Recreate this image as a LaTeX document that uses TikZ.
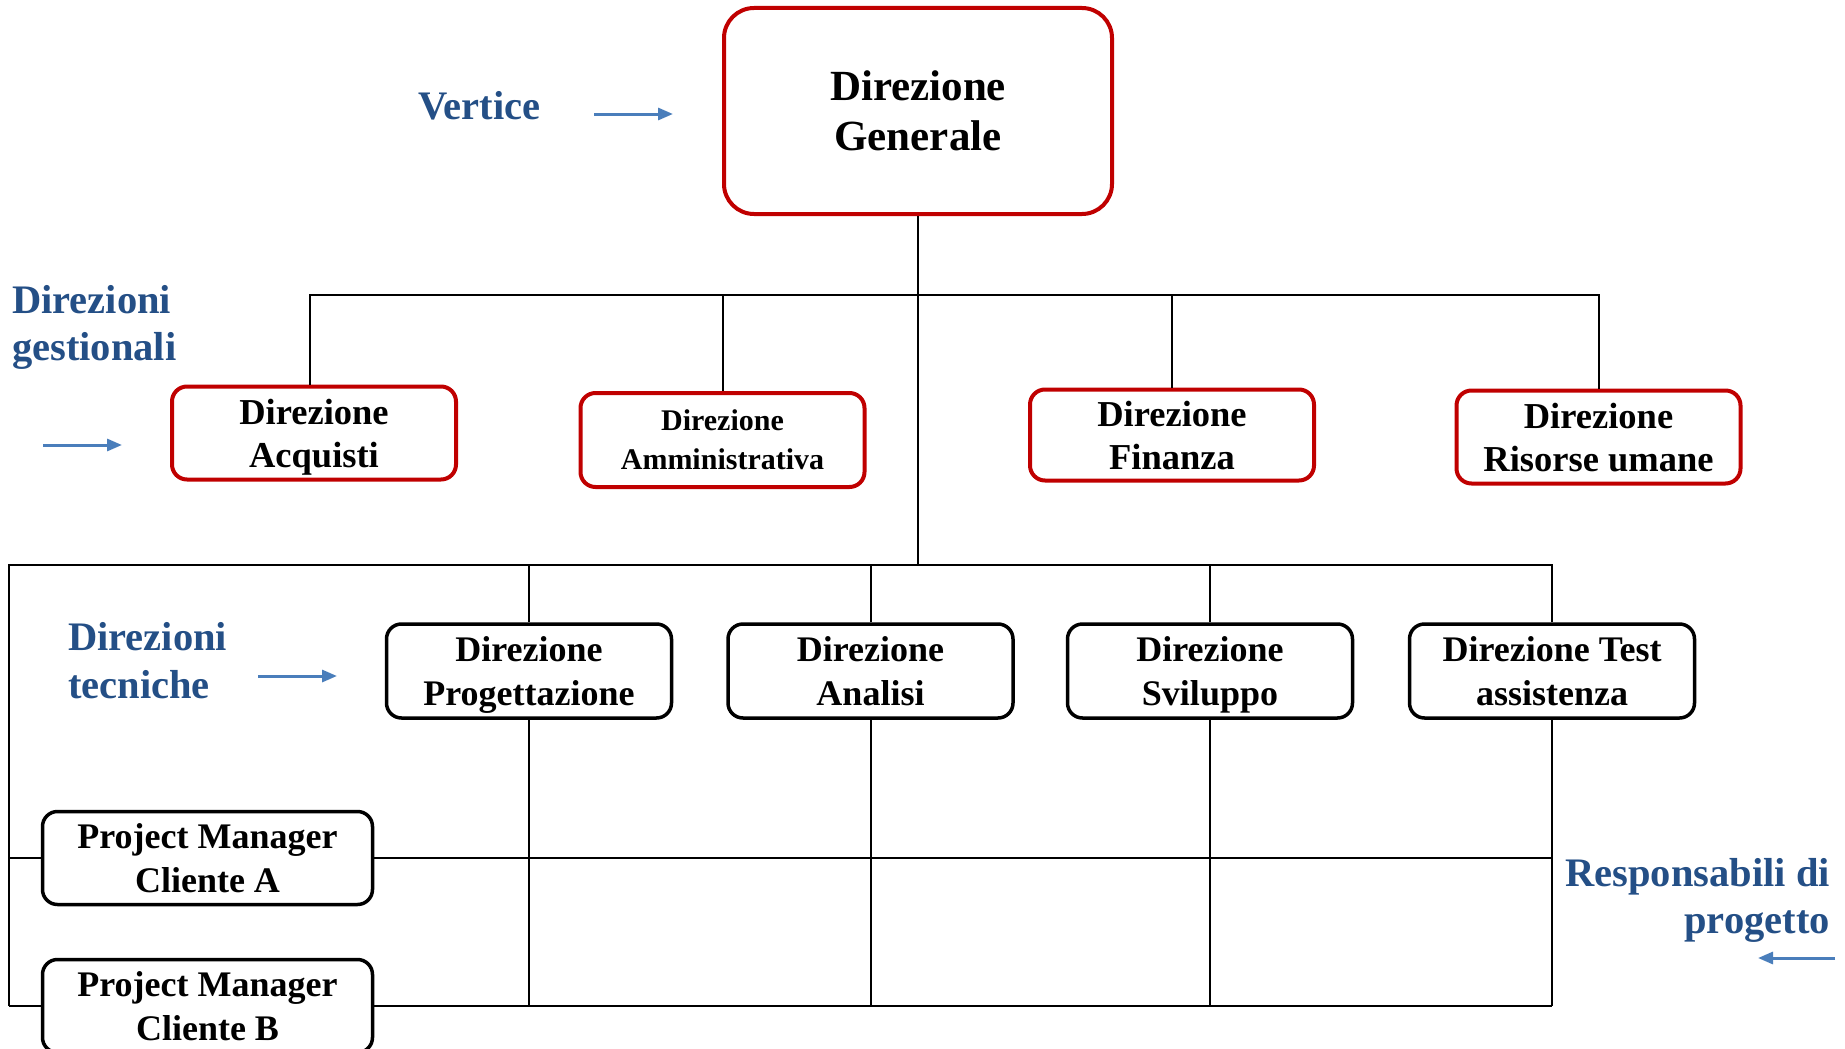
\documentclass[tikz,border=0pt]{standalone}
\usepackage{fontspec}
\setmainfont{Liberation Serif}
\usetikzlibrary{arrows.meta}
\definecolor{boxred}{RGB}{192,0,0}
\definecolor{labblue}{RGB}{36,79,134}
\definecolor{arrblue}{RGB}{74,126,187}
\tikzset{
  basebox/.style={rectangle, align=center, inner sep=0pt, text=black, text depth=0pt},
  redbox/.style={basebox, draw=boxred, line width=4pt, rounded corners=15pt,
    minimum width=284pt, minimum height=93pt, font=\bfseries\fontsize{36.5}{43}\selectfont},
  blackbox/.style={basebox, draw=black, line width=3.5pt, rounded corners=15pt,
    minimum width=285pt, minimum height=94pt, font=\bfseries\fontsize{36}{44}\selectfont},
  conn/.style={draw=black, line width=2pt},
  lab/.style={text=labblue, inner sep=0pt, font=\bfseries\fontsize{40.5}{47}\selectfont},
  pointer/.style={draw=arrblue, line width=3pt, -{Triangle[length=15pt,width=12pt]}}
}
\begin{document}
\begin{tikzpicture}[x=1pt,y=-1pt]
\clip (0,0) rectangle (1845,1049);
\fill[white] (0,0) rectangle (1845,1049);

% top
\node[redbox, minimum width=388pt, minimum height=206pt, rounded corners=30pt,
  font=\bfseries\fontsize{43}{50}\selectfont] (dg) at (918,111) {Direzione\\Generale};

% gestionali
\node[redbox] (acq) at (314,433) {Direzione\\Acquisti};
\node[redbox, minimum height=94pt, font=\bfseries\fontsize{30}{39}\selectfont] (amm) at (722.5,440) {Direzione\\Amministrativa};
\node[redbox, minimum height=91pt] (fin) at (1172,435) {Direzione\\Finanza};
\node[redbox] (ris) at (1598.5,437) {Direzione\\Risorse umane};

% tecniche
\node[blackbox] (prog) at (529,671) {Direzione\\Progettazione};
\node[blackbox] (ana) at (870.5,671) {Direzione\\Analisi};
\node[blackbox] (svi) at (1210,671) {Direzione\\Sviluppo};
\node[blackbox] (test) at (1552,671) {Direzione Test\\assistenza};

% project managers
\node[blackbox, minimum width=330pt, minimum height=93pt] (pma) at (207.5,858) {Project Manager\\Cliente A};
\node[blackbox, minimum width=330pt, minimum height=93pt] (pmb) at (207.5,1006) {Project Manager\\Cliente B};

% bus coordinates
\coordinate (gbus) at (0,295);
\coordinate (tbus) at (0,565);
\coordinate (rowb) at (0,1006);
\coordinate (lft) at (9,0);

% connectors top
\draw[conn] (dg.south) -- (dg.south |- tbus);
\draw[conn] ([xshift=-4pt]acq.north) -- ([xshift=-4pt]acq.north |- gbus) -- (ris.north |- gbus) -- (ris.north);
\draw[conn] (amm.north) -- (amm.north |- gbus);
\draw[conn] (fin.north) -- (fin.north |- gbus);

% tech bus
\draw[conn] (lft |- rowb) -- (lft |- tbus) -- (test.north |- tbus) -- (test.north);
\draw[conn] (prog.north) -- (prog.north |- tbus);
\draw[conn] (ana.north) -- (ana.north |- tbus);
\draw[conn] (svi.north) -- (svi.north |- tbus);

% verticals below tech boxes
\draw[conn] (prog.south) -- (prog.south |- rowb);
\draw[conn] (ana.south) -- (ana.south |- rowb);
\draw[conn] (svi.south) -- (svi.south |- rowb);
\draw[conn] (test.south) -- (test.south |- rowb);

% project rows
\draw[conn] (lft |- pma.west) -- (pma.west);
\draw[conn] (pma.east) -- (test.south |- pma.east);
\draw[conn] (lft |- rowb) -- (pmb.west |- rowb);
\draw[conn] (pmb.east |- rowb) -- (test.south |- rowb);

% labels
\node[lab, anchor=base west] (vert) at (418,119) {Vertice};
\node[lab, anchor=base west] (dg1) at (12,313) {Direzioni};
\node[lab, anchor=base west] (dg2) at (12,360) {gestionali};
\node[lab, anchor=base west] (dt1) at (68,650) {Direzioni};
\node[lab, anchor=base west] (dt2) at (68,698) {tecniche};
\node[lab, anchor=base east] (rp1) at (1830,886) {Responsabili di};
\node[lab, anchor=base east] (rp2) at (1830,933) {progetto};

% pointer arrows
\coordinate (a1s) at (594,114); \coordinate (a1e) at (673,114);
\coordinate (a2s) at (43,445);  \coordinate (a2e) at (122,445);
\coordinate (a3s) at (258,676); \coordinate (a3e) at (337,676);
\coordinate (a4s) at (1835,958); \coordinate (a4e) at (1758,958);
\draw[pointer] (a1s) -- (a1e);
\draw[pointer] (a2s) -- (a2e);
\draw[pointer] (a3s) -- (a3e);
\draw[pointer] (a4s) -- (a4e);
\end{tikzpicture}
\end{document}
